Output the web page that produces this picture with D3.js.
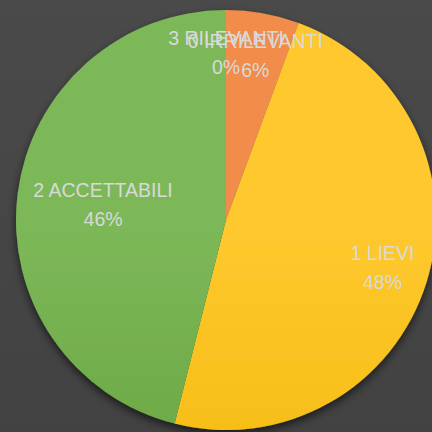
<!DOCTYPE html>
<html>
<head>
<meta charset="utf-8">
<script src="https://cdn.jsdelivr.net/npm/d3@7"></script>
<style>
  html, body { margin: 0; padding: 0; background: #444; }
  svg { display: block; }
  .lbl { font-family: "Liberation Sans", Arial, sans-serif; font-size: 19.5px; fill: #d9d9d9; }
</style>
</head>
<body>
<svg id="chart" width="432" height="432"></svg>
<script>
// categories and counts
const categories = ['0 IRRILEVANTI', '1 LIEVI', '2 ACCETTABILI', '3 RILEVANTI'];
const counts = [5, 43, 41, 0];

// slice colours, light at top -> dark at bottom
const colorTop = ['#f28c4c', '#ffc82e', '#7db858', '#5b9bd5'];
const colorBottom = ['#e6701f', '#edb500', '#5c9c36', '#41719c'];
// where the labels sit, as a fraction of the radius (excel "best fit")
const labelRadius = { '0 IRRILEVANTI': 0.795, '1 LIEVI': 0.78, '2 ACCETTABILI': 0.59, '3 RILEVANTI': 0.795 };

const svg = d3.select('#chart'),
	W = 432, H = 432,
	cx = 226, cy = 220, R = 210;

const defs = svg.append('defs');

let bg = defs.append('linearGradient').attr('id', 'bg')
	.attr('x1', 0).attr('y1', 0).attr('x2', 0).attr('y2', 1);
bg.append('stop').attr('offset', 0).attr('stop-color', '#4a4a4a');
bg.append('stop').attr('offset', 1).attr('stop-color', '#424242');
svg.append('rect').attr('width', W).attr('height', H).attr('fill', 'url(#bg)');

let shadow = defs.append('filter').attr('id', 'shadow')
	.attr('x', '-20%').attr('y', '-20%').attr('width', '140%').attr('height', '140%');
shadow.append('feDropShadow')
	.attr('dx', 0).attr('dy', 4).attr('stdDeviation', 4)
	.attr('flood-color', '#000').attr('flood-opacity', 0.6);

categories.forEach((c, i) => {
	let g = defs.append('linearGradient').attr('id', 'grad' + i)
		.attr('gradientUnits', 'userSpaceOnUse')
		.attr('x1', 0).attr('y1', cy - R).attr('x2', 0).attr('y2', cy + R);
	g.append('stop').attr('offset', 0).attr('stop-color', colorTop[i]);
	g.append('stop').attr('offset', 1).attr('stop-color', colorBottom[i]);
});

const total = d3.sum(counts);
const pie = d3.pie().sort(null).value(d => d.value);
const arcs = pie(categories.map((c, i) => ({ name: c, value: counts[i], i: i })));
const arc = d3.arc().innerRadius(0).outerRadius(R);

const g = svg.append('g').attr('transform', 'translate(' + cx + ',' + cy + ')');

g.append('g').attr('filter', 'url(#shadow)')
	.selectAll('path')
	.data(arcs)
	.join('path')
	.attr('d', arc)
	.attr('fill', d => 'url(#grad' + d.data.i + ')');

// labels: name + percent, drawn last so they overlap like in excel
const labels = g.append('g');
arcs.forEach(d => {
	let a = (d.startAngle + d.endAngle) / 2,
		r = R * labelRadius[d.data.name],
		x = r * Math.sin(a),
		y = -r * Math.cos(a);
	let t = labels.append('text').attr('class', 'lbl').attr('text-anchor', 'middle');
	t.append('tspan').attr('x', x).attr('y', y - 8).text(d.data.name);
	t.append('tspan').attr('x', x).attr('y', y + 21).text(Math.round(d.value / total * 100) + '%');
});
</script>
</body>
</html>
